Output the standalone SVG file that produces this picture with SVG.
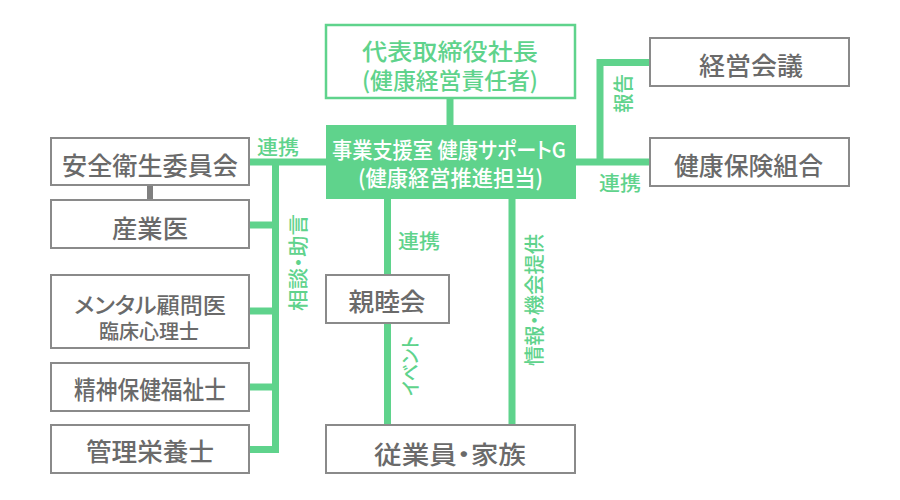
<svg xmlns="http://www.w3.org/2000/svg" width="900" height="500" viewBox="0 0 900 500">
<style>
text{font-family:"Noto Sans CJK JP","Noto Sans",sans-serif;font-weight:500;dominant-baseline:central;text-anchor:middle;font-feature-settings:"palt"}
.box{fill:#fff;stroke:#8a8a8a;stroke-width:2}
.gbox{fill:#fff;stroke:#5fd38c;stroke-width:2.5}
.main{fill:#5fd38c}
.t{fill:#6a6a6a;font-size:25px}
.tg{fill:#5fd38c;font-size:23px}
.tw{fill:#fff;font-size:22px}
.lbl{fill:#5fd38c;font-size:20px}
.c{stroke:#5fd38c;stroke-width:7;fill:none}
.cg{stroke:#808080;stroke-width:6;fill:none}
</style>
<rect width="900" height="500" fill="#fff"/>
<g id="connectors">
<line class="c" x1="450" y1="98" x2="450" y2="126"/>
<line class="c" x1="249" y1="162" x2="327" y2="162"/>
<line class="c" x1="275.5" y1="162" x2="275.5" y2="453"/>
<line class="c" x1="249" y1="225" x2="279" y2="225"/>
<line class="c" x1="249" y1="311" x2="279" y2="311"/>
<line class="c" x1="249" y1="387" x2="279" y2="387"/>
<line class="c" x1="249" y1="449.5" x2="279" y2="449.5"/>
<line class="c" x1="575" y1="162" x2="650" y2="162"/>
<polyline class="c" points="650,62.5 600,62.5 600,162"/>
<line class="c" x1="387.5" y1="198" x2="387.5" y2="275"/>
<line class="c" x1="387.5" y1="324" x2="387.5" y2="425"/>
<line class="c" x1="512" y1="198" x2="512" y2="425"/>
<line class="cg" x1="150" y1="185" x2="150" y2="200"/>
<text class="lbl" x="278" y="146" textLength="42" lengthAdjust="spacingAndGlyphs">連携</text>
<text class="lbl" x="620" y="182" textLength="42" lengthAdjust="spacingAndGlyphs">連携</text>
<text class="lbl" x="419" y="240" textLength="42" lengthAdjust="spacingAndGlyphs">連携</text>
<text class="lbl" transform="translate(622,93.5) rotate(-90)" x="0" y="0" textLength="39" lengthAdjust="spacingAndGlyphs">報告</text>
<text class="lbl" transform="translate(297,262.5) rotate(-90)" x="0" y="0" textLength="97" lengthAdjust="spacingAndGlyphs">相談・助言</text>
<text class="lbl" transform="translate(409,366) rotate(-90)" x="0" y="0" textLength="60" lengthAdjust="spacingAndGlyphs">イベント</text>
<text class="lbl" transform="translate(533,300) rotate(-90)" x="0" y="0" textLength="132" lengthAdjust="spacingAndGlyphs">情報・機会提供</text>
</g>
<g id="ceo">
<rect class="gbox" x="326" y="25" width="249" height="73"/>
<text class="tg"><tspan x="450" y="50" textLength="176" lengthAdjust="spacingAndGlyphs">代表取締役社長</tspan><tspan x="450" y="79" textLength="176" lengthAdjust="spacingAndGlyphs">(健康経営責任者)</tspan></text>
</g>
<g id="support">
<rect class="main" x="326" y="125" width="250" height="74"/>
<text class="tw"><tspan x="449" y="147.5" textLength="234" lengthAdjust="spacingAndGlyphs">事業支援室 健康サポートG</tspan><tspan x="450.5" y="175.5" textLength="185" lengthAdjust="spacingAndGlyphs">(健康経営推進担当)</tspan></text>
</g>
<g id="safety">
<rect class="box" x="51" y="138" width="198" height="47"/>
<text class="t" x="150" y="163.5" textLength="176" lengthAdjust="spacingAndGlyphs">安全衛生委員会</text>
</g>
<g id="doctor">
<rect class="box" x="51" y="200" width="198" height="48"/>
<text class="t" x="150" y="226.5" textLength="76" lengthAdjust="spacingAndGlyphs">産業医</text>
</g>
<g id="mental">
<rect class="box" x="51" y="275" width="198" height="73"/>
<text class="t"><tspan x="150" y="303" style="font-size:22px" textLength="152" lengthAdjust="spacingAndGlyphs">メンタル顧問医</tspan><tspan x="149" y="330" style="font-size:20px" textLength="100" lengthAdjust="spacingAndGlyphs">臨床心理士</tspan></text>
</g>
<g id="psw">
<rect class="box" x="51" y="363" width="198" height="48"/>
<text class="t" x="150" y="387.5" textLength="152" lengthAdjust="spacingAndGlyphs">精神保健福祉士</text>
</g>
<g id="dietitian">
<rect class="box" x="51" y="425" width="198" height="48"/>
<text class="t" x="150" y="449.5" textLength="128" lengthAdjust="spacingAndGlyphs">管理栄養士</text>
</g>
<g id="club">
<rect class="box" x="326" y="275" width="123" height="48"/>
<text class="t" x="387" y="300" textLength="77" lengthAdjust="spacingAndGlyphs">親睦会</text>
</g>
<g id="employees">
<rect class="box" x="326" y="425" width="249" height="48"/>
<text class="t" x="450" y="452.5" textLength="152" lengthAdjust="spacingAndGlyphs">従業員・家族</text>
</g>
<g id="council">
<rect class="box" x="650" y="38" width="199" height="48"/>
<text class="t" x="751" y="63.5" textLength="104" lengthAdjust="spacingAndGlyphs">経営会議</text>
</g>
<g id="insurance">
<rect class="box" x="650" y="138" width="199" height="48"/>
<text class="t" x="748.5" y="163.5" textLength="149" lengthAdjust="spacingAndGlyphs">健康保険組合</text>
</g>
</svg>
